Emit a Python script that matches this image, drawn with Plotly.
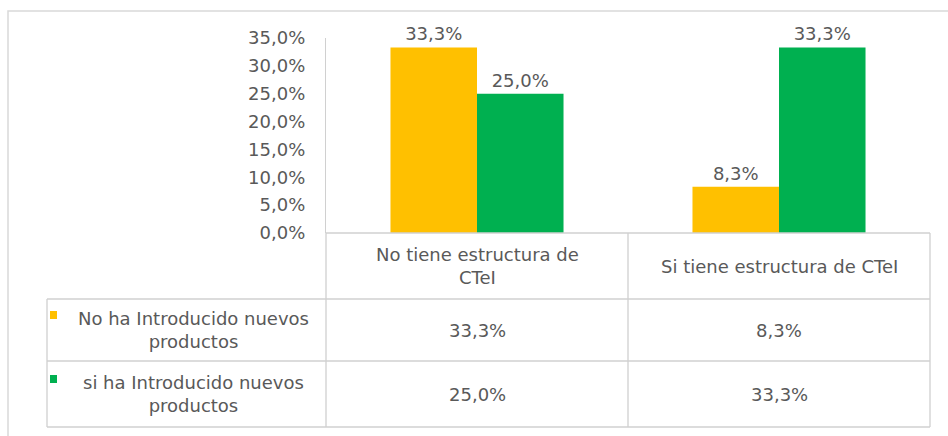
import plotly.graph_objects as go

categories = ["No tiene estructura de<br>CTeI", "Si tiene estructura de CTeI"]
series_names = ["No ha Introducido nuevos<br>productos", "si ha Introducido nuevos<br>productos"]
series_values = [
    [0.333, 0.083],
    [0.250, 0.333],
]
series_colors = ["#FFC000", "#00B050"]
y_ticks = [0.0, 0.05, 0.10, 0.15, 0.20, 0.25, 0.30, 0.35]

W, H = 948, 436
FONT = "DejaVu Sans"
TXT = "#595959"
LINE = "#D0D0D0"


def xp(px):
    return px / W


def yp(py):
    return 1 - py / H


# pixel geometry
plot_l, plot_r = 326, 930
plot_t, plot_b = 38, 233
table_l = 47
col_mid = 628
row_lines = [233, 299, 361, 427]

fig = go.Figure()
cat_keys = ["c0", "c1"]
for name, vals, col in zip(series_names, series_values, series_colors):
    fig.add_trace(go.Bar(
        x=cat_keys, y=vals, name=name, marker=dict(color=col, line=dict(width=0)),
        texttemplate="%{y:.1%}", textposition="outside", cliponaxis=False,
        textfont=dict(family=FONT, size=18, color=TXT),
    ))

shapes = []


def hline(y, x0, x1):
    shapes.append(dict(type="line", xref="paper", yref="paper", x0=xp(x0), x1=xp(x1),
                       y0=yp(y), y1=yp(y), line=dict(color=LINE, width=1.3)))


def vline(x, y0, y1):
    shapes.append(dict(type="line", xref="paper", yref="paper", x0=xp(x), x1=xp(x),
                       y0=yp(y0), y1=yp(y1), line=dict(color=LINE, width=1.3)))


# outer frame (top & left visible)
shapes.append(dict(type="rect", xref="paper", yref="paper", x0=xp(8), x1=xp(960),
                   y0=yp(450), y1=yp(11), line=dict(color="#D9D9D9", width=1.5)))

hline(row_lines[0], plot_l, plot_r)
for y in row_lines[1:]:
    hline(y, table_l, plot_r)
vline(plot_l, row_lines[0], row_lines[-1])
vline(col_mid, row_lines[0], row_lines[-1])
vline(plot_r, row_lines[0], row_lines[-1])
vline(table_l, row_lines[1], row_lines[-1])

annotations = []
col_centers = [(plot_l + col_mid) / 2, (col_mid + plot_r) / 2]
# header
for cx, cat in zip(col_centers, categories):
    annotations.append(dict(xref="paper", yref="paper", x=xp(cx), y=yp((row_lines[0] + row_lines[1]) / 2),
                            text=cat, showarrow=False, xanchor="center", yanchor="middle",
                            font=dict(family=FONT, size=18, color=TXT)))


def fmt(v):
    return f"{v * 100:.1f}".replace(".", ",") + "%"


for i, (name, vals, col) in enumerate(zip(series_names, series_values, series_colors)):
    ry0, ry1 = row_lines[i + 1], row_lines[i + 2]
    cy = (ry0 + ry1) / 2
    annotations.append(dict(xref="paper", yref="paper", x=xp(193), y=yp(cy),
                            text=name, showarrow=False, xanchor="center", yanchor="middle",
                            font=dict(family=FONT, size=18, color=TXT)))
    shapes.append(dict(type="rect", xref="paper", yref="paper", x0=xp(50), x1=xp(57),
                       y0=yp(cy - 11), y1=yp(cy - 19), fillcolor=col, line=dict(width=0)))
    for cx, v in zip(col_centers, vals):
        annotations.append(dict(xref="paper", yref="paper", x=xp(cx), y=yp(cy),
                                text=fmt(v), showarrow=False, xanchor="center", yanchor="middle",
                                font=dict(family=FONT, size=18, color=TXT)))

fig.update_layout(
    width=W, height=H, margin=dict(l=0, r=0, t=0, b=0, autoexpand=False),
    paper_bgcolor="white", plot_bgcolor="white",
    separators=",.", showlegend=False,
    barmode="group", bargap=0.427, bargroupgap=0,
    xaxis=dict(domain=[xp(plot_l), xp(plot_r)], showticklabels=False, showgrid=False,
               zeroline=False, showline=False, fixedrange=True, automargin=False),
    yaxis=dict(domain=[yp(plot_b), yp(plot_t)], range=[0, 0.35], tickvals=y_ticks,
               tickformat=".1%", showgrid=False, zeroline=False, automargin=False,
               showline=True, linecolor=LINE, linewidth=1.3,
               ticks="outside", ticklen=0, ticklabelstandoff=16,
               tickfont=dict(family=FONT, size=18, color=TXT)),
    shapes=shapes, annotations=annotations,
)

fig.write_html(
    "out.html",
    config={"displayModeBar": False},
    post_script="document.body.style.margin='0';document.body.style.overflow='hidden';",
)
